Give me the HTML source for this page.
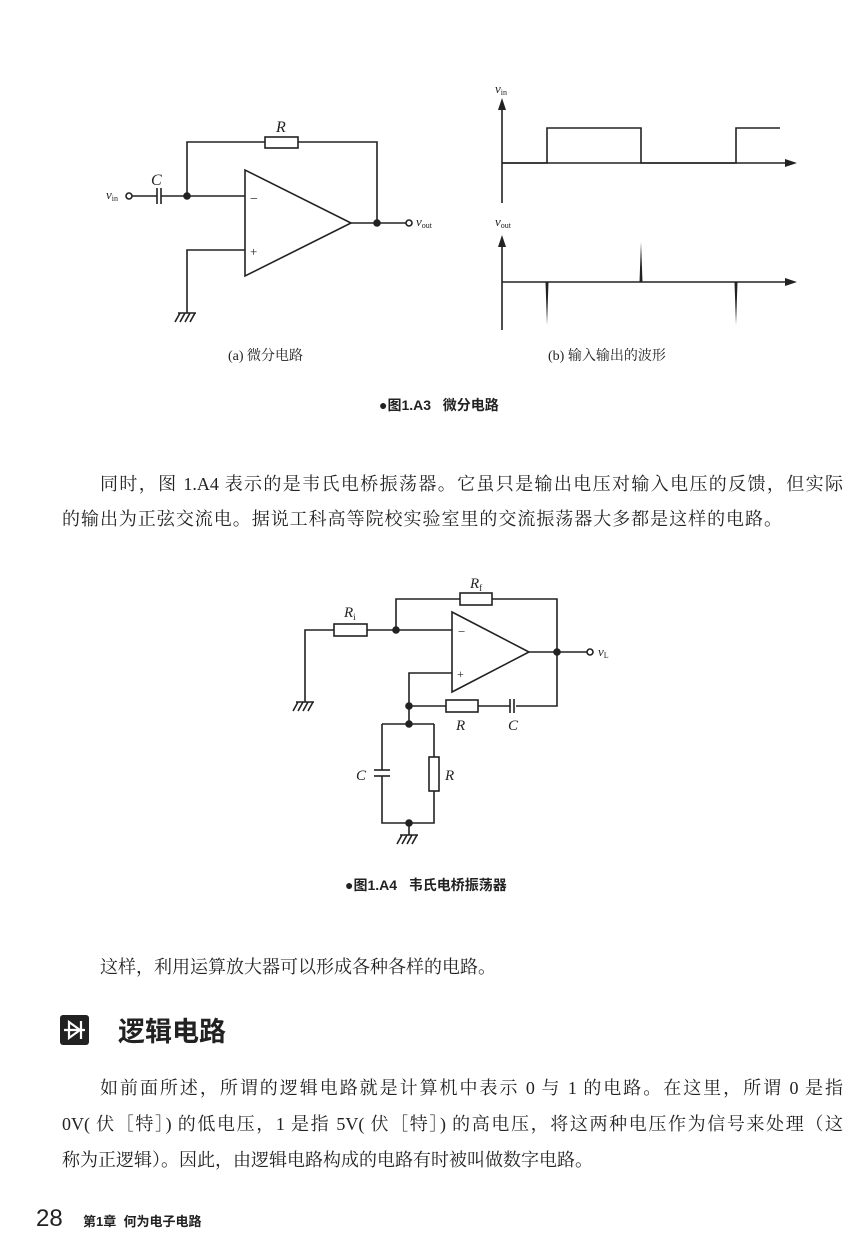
<!DOCTYPE html>
<html><head><meta charset="utf-8"><style>
html,body{margin:0;padding:0;background:#fff;}
body{width:850px;height:1238px;position:relative;overflow:hidden;font-family:"Liberation Serif","Noto Serif CJK SC",serif;color:#222;}
.ln{position:absolute;font-size:18px;line-height:22px;text-align:justify;text-align-last:justify;white-space:nowrap;}
.sans{font-family:"Liberation Sans","Noto Sans CJK SC",sans-serif;}
svg{position:absolute;left:0;top:0;}
</style></head><body>
<svg width="850" height="1238" viewBox="0 0 850 1238" fill="none" stroke="#222" stroke-width="1.6" font-family="Liberation Serif, Noto Serif CJK SC, serif">
<!-- (a) differentiator -->
<polyline points="187,196 187,142 377,142 377,223"/>
<rect x="265" y="137" width="33" height="11" fill="#fff"/>
<polygon points="245,170 245,276 351,223"/>
<line x1="132" y1="196" x2="157" y2="196"/>
<line x1="161" y1="196" x2="245" y2="196"/>
<line x1="157" y1="188" x2="157" y2="204"/><line x1="161" y1="188" x2="161" y2="204"/>
<circle cx="129" cy="196" r="3" fill="#fff"/>
<circle cx="187" cy="196" r="3" fill="#222"/>
<line x1="351" y1="223" x2="406" y2="223"/>
<circle cx="377" cy="223" r="3" fill="#222"/>
<circle cx="409" cy="223" r="3" fill="#fff"/>
<polyline points="245,250 187,250 187,313"/>
<line x1="178" y1="313" x2="196" y2="313"/>
<line x1="180" y1="313" x2="175" y2="322"/><line x1="185" y1="313" x2="180" y2="322"/><line x1="190" y1="313" x2="185" y2="322"/><line x1="195" y1="313" x2="190" y2="322"/>
<g stroke="none" fill="#222">
<text x="250" y="203" font-size="14">−</text>
<text x="250" y="256" font-size="13">+</text>
<text x="276" y="132" font-size="16" font-style="italic">R</text>
<text x="151" y="185" font-size="16" font-style="italic">C</text>
<text x="106" y="199" font-size="13" font-style="italic">v<tspan font-size="8" font-style="normal" dy="2">in</tspan></text>
<text x="416" y="226" font-size="13" font-style="italic">v<tspan font-size="8" font-style="normal" dy="2">out</tspan></text>
</g>
<!-- waveforms -->
<line x1="502" y1="103" x2="502" y2="203"/>
<polygon points="502,98 498,110 506,110" fill="#222" stroke="none"/>
<line x1="502" y1="163" x2="790" y2="163"/>
<polygon points="797,163 785,159 785,167" fill="#222" stroke="none"/>
<polyline points="502,163 547,163 547,128 641,128 641,163 736,163 736,128 780,128"/>
<line x1="502" y1="240" x2="502" y2="330"/>
<polygon points="502,235 498,247 506,247" fill="#222" stroke="none"/>
<line x1="502" y1="282" x2="790" y2="282"/>
<polygon points="797,282 785,278 785,286" fill="#222" stroke="none"/>
<polygon points="545.5,282 548.5,282 547,325" fill="#222" stroke="none"/>
<polygon points="639.5,282 642.5,282 641,242" fill="#222" stroke="none"/>
<polygon points="734.5,282 737.5,282 736,325" fill="#222" stroke="none"/>
<g stroke="none" fill="#222">
<text x="495" y="93" font-size="13" font-style="italic">v<tspan font-size="8" font-style="normal" dy="2">in</tspan></text>
<text x="495" y="226" font-size="13" font-style="italic">v<tspan font-size="8" font-style="normal" dy="2">out</tspan></text>
<text x="228" y="360" font-size="14">(a) 微分电路</text>
<text x="548" y="360" font-size="14">(b) 输入输出的波形</text>
</g>
<!-- Wien bridge -->
<polyline points="396,630 396,599 557,599 557,706 516,706"/>
<rect x="460" y="593" width="32" height="12" fill="#fff"/>
<polyline points="305,702 305,630 452,630"/>
<rect x="334" y="624" width="33" height="12" fill="#fff"/>
<circle cx="396" cy="630" r="3" fill="#222"/>
<polygon points="452,612 452,692 529,652"/>
<line x1="529" y1="652" x2="587" y2="652"/>
<circle cx="557" cy="652" r="3" fill="#222"/>
<circle cx="590" cy="652" r="3" fill="#fff"/>
<polyline points="452,673 409,673 409,724"/>
<line x1="409" y1="706" x2="510" y2="706"/>
<rect x="446" y="700" width="32" height="12" fill="#fff"/>
<line x1="510" y1="699" x2="510" y2="713"/><line x1="514" y1="699" x2="514" y2="713"/>
<circle cx="409" cy="706" r="3" fill="#222"/>
<circle cx="409" cy="724" r="3" fill="#222"/>
<polyline points="382,724 434,724"/>
<polyline points="382,724 382,770"/><polyline points="382,776 382,823 434,823 434,724"/>
<line x1="374" y1="770" x2="390" y2="770"/><line x1="374" y1="776" x2="390" y2="776"/>
<rect x="429" y="757" width="10" height="34" fill="#fff"/>
<circle cx="409" cy="823" r="3" fill="#222"/>
<line x1="409" y1="823" x2="409" y2="835"/>
<line x1="400" y1="835" x2="418" y2="835"/>
<line x1="402" y1="835" x2="397" y2="844"/><line x1="407" y1="835" x2="402" y2="844"/><line x1="412" y1="835" x2="407" y2="844"/><line x1="417" y1="835" x2="412" y2="844"/>
<line x1="296" y1="702" x2="314" y2="702"/>
<line x1="298" y1="702" x2="293" y2="711"/><line x1="303" y1="702" x2="298" y2="711"/><line x1="308" y1="702" x2="303" y2="711"/><line x1="313" y1="702" x2="308" y2="711"/>
<g stroke="none" fill="#222">
<text x="458" y="636" font-size="13">−</text>
<text x="457" y="678" font-size="12">+</text>
<text x="470" y="588" font-size="15" font-style="italic">R<tspan font-size="9" font-style="normal" dy="3">f</tspan></text>
<text x="344" y="617" font-size="15" font-style="italic">R<tspan font-size="9" font-style="normal" dy="3">i</tspan></text>
<text x="456" y="730" font-size="15" font-style="italic">R</text>
<text x="508" y="730" font-size="15" font-style="italic">C</text>
<text x="356" y="780" font-size="15" font-style="italic">C</text>
<text x="445" y="780" font-size="15" font-style="italic">R</text>
<text x="598" y="656" font-size="13" font-style="italic">v<tspan font-size="8" font-style="normal" dy="2">L</tspan></text>
</g>
<!-- heading icon -->
<rect x="60" y="1015" width="29" height="30" rx="3" fill="#222" stroke="none"/>
<g stroke="#fff" stroke-width="2.2"><line x1="64" y1="1030" x2="85" y2="1030"/><polygon points="69,1022 69,1038 80,1030" fill="none"/><line x1="81" y1="1021" x2="81" y2="1039"/></g>
</svg>
<div class="sans" style="position:absolute;left:379px;top:395px;font-size:14px;font-weight:bold;">●图1.A3&nbsp;&nbsp;&nbsp;微分电路</div>
<div class="sans" style="position:absolute;left:345px;top:875px;font-size:14px;font-weight:bold;">●图1.A4&nbsp;&nbsp;&nbsp;韦氏电桥振荡器</div>
<div class="ln" style="left:100px;top:473px;width:743px;">同时，图 1.A4 表示的是韦氏电桥振荡器。它虽只是输出电压对输入电压的反馈，但实际</div>
<div class="ln" style="left:62px;top:508px;width:720px;">的输出为正弦交流电。据说工科高等院校实验室里的交流振荡器大多都是这样的电路。</div>
<div class="ln" style="left:100px;top:956px;">这样，利用运算放大器可以形成各种各样的电路。</div>
<div class="sans" style="position:absolute;left:118px;top:1014px;font-size:27px;font-weight:bold;line-height:36px;">逻辑电路</div>
<div class="ln" style="left:100px;top:1077px;width:743px;">如前面所述，所谓的逻辑电路就是计算机中表示 0 与 1 的电路。在这里，所谓 0 是指</div>
<div class="ln" style="left:62px;top:1113px;width:781px;">0V( 伏［特］) 的低电压，1 是指 5V( 伏［特］) 的高电压，将这两种电压作为信号来处理（这</div>
<div class="ln" style="left:62px;top:1149px;">称为正逻辑）。因此，由逻辑电路构成的电路有时被叫做数字电路。</div>
<div class="sans" style="position:absolute;left:36px;top:1205px;font-size:24px;line-height:28px;">28</div>
<div class="sans" style="position:absolute;left:83px;top:1211px;font-size:13px;font-weight:bold;">第1章&nbsp;&nbsp;何为电子电路</div>
</body></html>
